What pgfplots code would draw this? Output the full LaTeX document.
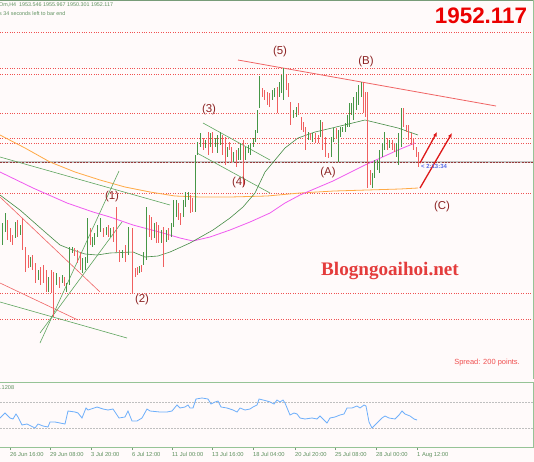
\documentclass[border=0pt]{standalone}
\usepackage{fontspec}
\setmainfont{Liberation Sans}
\newfontfamily\blogfont{Liberation Serif}
\usepackage{pgfplots}
\usepackage{pgfplotstable}
\pgfplotsset{compat=1.18}
\usetikzlibrary{arrows.meta}

\definecolor{bgc}{RGB}{255,250,250}
\definecolor{barG}{RGB}{70,150,70}
\definecolor{barR}{RGB}{240,95,95}
\definecolor{dotR}{RGB}{240,80,80}
\definecolor{trG}{RGB}{95,165,95}
\definecolor{trR}{RGB}{240,100,100}
\definecolor{maO}{RGB}{255,170,70}
\definecolor{maM}{RGB}{240,90,240}
\definecolor{maG}{RGB}{70,140,70}
\definecolor{frameG}{RGB}{150,195,150}
\definecolor{labR}{RGB}{140,35,35}
\definecolor{txtG}{RGB}{95,145,95}
\definecolor{indB}{RGB}{110,175,250}
\definecolor{clkB}{RGB}{90,110,230}
\definecolor{blogR}{RGB}{228,60,60}

% candles: x position, high row, low row (rows counted from the top)
\pgfplotstableread{
x hi lo
2 223 245
5 213 232
15 222 238
20 225 235
30 257 267
38 270 280
48 277 292
56 273 285
62 275 283
66 283 292
69 247 285
72 247 253
82 258 273
85 257 270
87 218 263
92 237 247
94 233 245
97 225 237
100 218 232
106 227 235
110 228 237
122 250 258
128 227 255
139 266 273
143 252 265
146 207 260
154 223 238
161 230 243
166 230 242
171 223 237
173 200 227
176 200 217
183 200 217
185 192 207
188 192 200
195 155 212
197 142 155
200 133 147
205 140 148
210 133 147
215 138 147
217 135 153
220 132 145
227 147 157
233 152 162
238 148 160
240 143 160
245 147 160
248 145 153
250 143 155
253 138 147
255 130 142
257 110 133
259 76 108
272 90 100
274 88 97
279 82 97
281 75 93
283 68 100
293 110 118
296 107 117
308 132 140
312 133 142
320 120 137
331 137 157
333 128 142
338 130 162
340 127 137
342 127 132
345 123 132
347 115 127
349 103 127
351 103 115
353 97 120
356 92 110
358 85 105
361 82 97
372 173 188
374 160 178
377 160 170
379 150 173
382 143 157
384 132 150
389 140 148
396 143 157
398 133 165
401 108 147
}\upbars

\pgfplotstableread{
x hi lo
7 220 240
10 228 242
12 235 245
17 220 237
22 218 250
25 247 272
28 255 268
32 255 270
35 263 283
40 267 285
43 265 283
46 270 292
51 270 293
53 272 317
59 277 288
64 277 286
74 248 256
77 250 263
80 252 270
90 228 245
103 228 237
108 225 237
113 227 242
116 207 252
119 250 262
125 245 262
132 228 293
135 268 277
137 267 275
141 265 272
149 215 237
151 217 240
156 222 243
158 225 243
163 227 267
168 228 240
178 203 220
180 213 225
190 195 213
192 198 212
203 138 150
208 132 155
212 132 153
222 135 155
225 137 165
229 142 150
231 147 163
236 150 167
243 140 187
262 88 97
264 90 100
267 92 105
269 93 107
277 87 113
286 75 90
288 83 97
290 102 125
298 103 115
301 117 130
303 122 132
305 127 150
310 133 140
315 133 143
318 135 143
322 122 150
325 137 157
328 153 158
336 128 138
363 82 113
365 92 117
367 92 188
370 170 185
387 138 150
392 140 150
394 143 152
403 108 127
406 125 132
408 125 140
411 133 145
413 138 150
416 147 157
418 152 167
}\downbars

\begin{document}
\begin{tikzpicture}
\useasboundingbox (0,0) rectangle (534bp,-462bp);
\fill[bgc] (0,0) rectangle (534bp,-462bp);

% ---------------- main price panel ----------------
\begin{axis}[
    at={(0,0)}, anchor=north west,
    scale only axis, width=534bp, height=379bp,
    xmin=0, xmax=534, ymin=0, ymax=379,
    y dir=reverse,
    hide axis,
    unbounded coords=jump,
]
% horizontal levels
\pgfplotsinvokeforeach{32,68,74,113,138,143,193,293,319}{
  \addplot[dotR, line width=0.7bp, dash pattern=on 1bp off 1.4bp] coordinates {(0,#1) (534,#1)};
}
\addplot[black!22, line width=2bp] coordinates {(0,162) (534,162)};
\addplot[labR!90, line width=0.8bp, dash pattern=on 2bp off 1.2bp] coordinates {(0,162) (534,162)};

% moving averages
\addplot[maO, line width=0.8bp] coordinates {
 (0,135) (25,148) (50,162) (75,172) (100,180) (125,187) (150,192) (175,196)
 (200,197) (230,197) (267,196) (300,193) (334,191) (367,190) (400,189) (418,188)};
\addplot[maM, line width=0.8bp] coordinates {
 (0,172) (33,188) (67,203) (93,212) (110,217) (133,225) (163,233) (180,238)
 (193,241) (210,237) (230,230) (250,222) (270,213) (285,203) (300,195)
 (333,181) (365,165) (398,150) (415,143)};
\addplot[maG, line width=0.6bp] coordinates {
 (0,195) (20,210) (45,232) (60,245) (70,249) (85,254) (97,255) (110,253)
 (133,252) (145,257) (158,256) (170,252) (190,243) (213,230) (230,218)
 (243,207) (255,193) (265,172) (275,160) (285,148) (298,138) (315,132)
 (332,128) (365,120) (398,128) (418,135)};

% trend lines
\addplot[trR, line width=0.8bp] coordinates {(238,60) (496,106)};
\addplot[trR, line width=0.6bp] coordinates {(0,197) (100,292)};
\addplot[trR, line width=0.6bp] coordinates {(0,283) (78,320)};
\addplot[trG, line width=0.6bp] coordinates {(0,157) (170,205)};
\addplot[trG, line width=0.6bp] coordinates {(0,302) (127,338)};
\addplot[trG, line width=0.6bp] coordinates {(40,343) (119,171)};
\addplot[trG, line width=0.6bp] coordinates {(40,333) (122,222)};
\addplot[trG, line width=0.6bp] coordinates {(203,123) (270,160)};
\addplot[trG, line width=0.6bp] coordinates {(197,153) (270,193)};

% candles
\addplot[draw=none, mark=none, forget plot,
  error bars/.cd, y dir=plus, y explicit, error mark=none,
  error bar style={barG, line width=0.9bp}]
  table[x=x, y=hi, y error expr=\thisrow{lo}-\thisrow{hi}] {\upbars};
\addplot[draw=none, mark=none, forget plot,
  error bars/.cd, y dir=plus, y explicit, error mark=none,
  error bar style={barR, line width=0.9bp}]
  table[x=x, y=hi, y error expr=\thisrow{lo}-\thisrow{hi}] {\downbars};

% arrows
\addplot[red!85!black!90, line width=1.3bp, -{Latex[length=4.5bp,width=4bp]}] coordinates {(420,163) (437,132)};
\addplot[red!85!black!90, line width=1.3bp, -{Latex[length=4.5bp,width=4bp]}] coordinates {(420,188) (452,133)};

% wave labels
\begin{scope}[every node/.style={font=\fontsize{11.5}{12}\selectfont, text=labR, inner sep=0pt}]
\node at (axis cs:280,52) {(5)};
\node at (axis cs:366,62) {(B)};
\node at (axis cs:209,110) {(3)};
\node at (axis cs:239,183) {(4)};
\node at (axis cs:112,197) {(1)};
\node at (axis cs:142,300) {(2)};
\node at (axis cs:328,173) {(A)};
\node at (axis cs:442,207) {(C)};
\end{scope}

\node[font=\bfseries\fontsize{22.5}{24}\selectfont, text=red!92!black, inner sep=0pt] at (axis cs:481,16) {1952.117};
\node[anchor=west, font=\fontsize{5.4}{6}\selectfont, text=txtG, inner sep=0pt] at (axis cs:-1,5) {Om,H4\ \ 1953.546 1955.967 1950.301 1952.117};
\node[anchor=west, font=\fontsize{5.4}{6}\selectfont, text=txtG, inner sep=0pt] at (axis cs:-1,14) {s 34 seconds left to bar end};
\node[anchor=west, font=\bfseries\fontsize{6}{6}\selectfont, text=clkB, inner sep=0pt] at (axis cs:421,166) {< 2:13:34};
\node[font=\blogfont\bfseries\fontsize{19.2}{20}\selectfont, text=blogR, inner sep=0pt] at (axis cs:390,271) {Blogngoaihoi.net};
\node[anchor=east, font=\fontsize{7.5}{8}\selectfont, text=dotR, inner sep=0pt] at (axis cs:520,363) {Spread: 200 points.};

% frame
\draw[frameG!80!black, line width=0.8bp] (axis cs:0,0.3) -- (axis cs:534,0.3);
\draw[frameG, line width=1.2bp] (axis cs:533.4,0) -- (axis cs:533.4,379);
\end{axis}

% ---------------- indicator panel ----------------
\begin{axis}[
    at={(0,-382bp)}, anchor=north west,
    scale only axis, width=534bp, height=65bp,
    xmin=0, xmax=534, ymin=0, ymax=65,
    axis x line*=bottom, axis y line=none,
    x axis line style={draw=frameG, line width=1bp, -},
    xtick={10,50,91,132,172,212,253,295,335,376,417},
    xticklabels={26 Jun 16:00,29 Jun 08:00,3 Jul 20:00,6 Jul 12:00,11 Jul 00:00,13 Jul 16:00,18 Jul 04:00,20 Jul 20:00,25 Jul 08:00,28 Jul 00:00,1 Aug 12:00},
    tick align=outside, major tick length=3bp,
    tick style={frameG!80!black, line width=0.6bp},
    xticklabel style={font=\fontsize{5.8}{6}\selectfont, text=txtG, anchor=north west, inner sep=0pt, yshift=-2bp},
    ytick=\empty,
]
\addplot[black!25, line width=0.5bp, dash pattern=on 1.5bp off 1.5bp] coordinates {(0,45) (534,45)};
\addplot[black!25, line width=0.5bp, dash pattern=on 1.5bp off 1.5bp] coordinates {(0,19) (534,19)};
\addplot[indB, line width=0.8bp] coordinates {
 (0,29) (5,34) (10,29) (13,28) (16,33) (18,30) (22,22) (27,23) (35,19) (38,23)
 (43,21) (48,20) (50,25) (55,25) (60,24) (65,23) (68,36) (75,35) (78,34) (82,29)
 (86,39) (88,37) (97,40) (103,38) (108,37) (113,38) (119,29) (125,30) (128,36)
 (132,26) (137,26) (142,29) (147,38) (150,36) (160,35) (167,35) (172,36) (177,42)
 (180,39) (185,40) (188,42) (190,39) (193,39) (196,48) (202,49) (208,48) (211,43)
 (215,45) (218,46) (221,40) (227,39) (233,37) (237,35) (240,39) (245,37) (250,38)
 (253,40) (257,42) (259,48) (263,47) (267,46) (270,45) (274,43) (277,47) (280,45)
 (283,47) (285,44) (290,32) (294,34) (297,33) (300,29) (305,28) (312,29) (317,28)
 (320,31) (324,27) (327,24) (330,29) (335,30) (340,32) (344,33) (347,39) (352,39)
 (357,41) (360,39) (364,42) (366,41) (369,25) (372,19) (377,24) (382,29) (385,31)
 (389,29) (395,28) (399,32) (402,36) (405,33) (410,31) (414,28) (417,27)};
\node[anchor=west, font=\fontsize{5.6}{6}\selectfont, text=txtG, inner sep=0pt] at (axis cs:0,59) {.1208};
\draw[frameG, line width=2.5bp] (axis cs:0,65.5) -- (axis cs:534,65.5);
\draw[frameG, line width=1.2bp] (axis cs:533.4,0) -- (axis cs:533.4,65);
\end{axis}
\end{tikzpicture}
\end{document}
